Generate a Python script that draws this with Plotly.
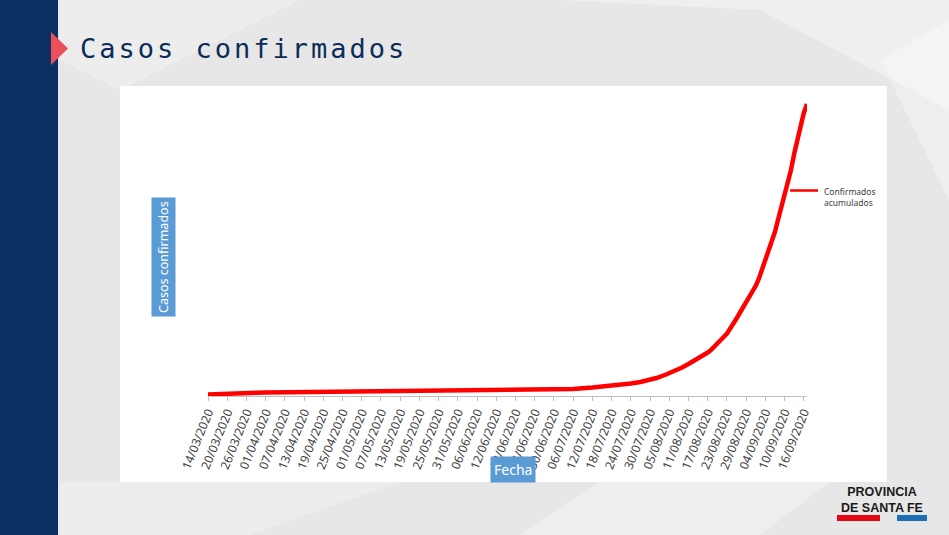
import plotly.graph_objects as go

W, H = 949, 535

# ---------------- data ----------------
dates = [
    "2020-03-14", "2020-03-20", "2020-03-26", "2020-03-29", "2020-04-01",
    "2020-04-07", "2020-04-13", "2020-04-19", "2020-04-25", "2020-05-01",
    "2020-05-07", "2020-05-13", "2020-05-19", "2020-05-25", "2020-05-31",
    "2020-06-03", "2020-06-06", "2020-06-12", "2020-06-18", "2020-06-24",
    "2020-06-30", "2020-07-06", "2020-07-12", "2020-07-18", "2020-07-22",
    "2020-07-24", "2020-07-27", "2020-07-30", "2020-08-01", "2020-08-04",
    "2020-08-07", "2020-08-09", "2020-08-11", "2020-08-13", "2020-08-15",
    "2020-08-17", "2020-08-18", "2020-08-19", "2020-08-20", "2020-08-21",
    "2020-08-22", "2020-08-23", "2020-08-24", "2020-08-25", "2020-08-26",
    "2020-08-27", "2020-08-28", "2020-08-29", "2020-08-30", "2020-08-31",
    "2020-09-01", "2020-09-02", "2020-09-03", "2020-09-04", "2020-09-05",
    "2020-09-06", "2020-09-07", "2020-09-08", "2020-09-09", "2020-09-10",
    "2020-09-11", "2020-09-12", "2020-09-13", "2020-09-14", "2020-09-15",
    "2020-09-16", "2020-09-17",
]
confirmados = [
    80, 110, 190, 300, 340,
    370, 395, 450, 462, 476,
    480, 490, 495, 503, 517,
    571, 585, 598, 639, 694,
    721, 816, 1020, 1251, 1480,
    1570, 1770, 2040, 2310, 2790,
    3330, 3740, 4220, 4700, 5240,
    5780, 6100, 6500, 6936, 7400,
    7888, 8350, 8976, 9656, 10400,
    11152, 11900, 12600, 13250, 14008,
    14850, 15850, 17100, 18400, 19700,
    20900, 22200, 23900, 25500, 26928,
    28500, 30600, 32800, 34800, 36700,
    38352, 39576,
]
x_start = "2020-03-14"
x_end = "2020-09-17"
tick_step_days = 6
series_name = "Confirmados acumulados"
slide_title = "Casos confirmados"
y_title = "Casos confirmados"
x_title = "Fecha"
logo_lines = ["PROVINCIA", "DE SANTA FE"]

# ---------------- helpers ----------------
def px(x):
    return x / W


def py(y):
    return 1 - y / H


fig = go.Figure()
fig.add_trace(go.Scatter(
    x=dates, y=confirmados, mode="lines", name=series_name,
    line=dict(color="#ff0000", width=4.5), showlegend=False,
    hoverinfo="skip",
))

NAVY = "#0b2f60"
shapes = []
# subtle background facets
for path, op in [
    ("M 560,0 L 949,0 L 949,110 L 760,10 Z", 0.35),
    ("M 60,0 L 300,0 L 120,90 L 60,60 Z", 0.25),
    ("M 880,60 L 949,20 L 949,200 Z", 0.3),
    ("M 60,482 L 400,482 L 250,535 L 60,535 Z", 0.25),
    ("M 600,482 L 830,482 L 760,535 L 520,535 Z", 0.3),
]:
    pts = path.replace("M", "").replace("Z", "").split("L")
    conv = []
    for p in pts:
        a, b = p.strip().split(",")
        conv.append(f"{px(float(a)):.5f},{py(float(b)):.5f}")
    shapes.append(dict(type="path", xref="paper", yref="paper",
                       path="M " + " L ".join(conv) + " Z",
                       fillcolor="white", opacity=op, line=dict(width=0), layer="below"))
# chart white area
shapes.append(dict(type="rect", xref="paper", yref="paper",
                   x0=px(120), x1=px(887), y0=py(482), y1=py(86),
                   fillcolor="white", line=dict(width=0), layer="below"))
# navy side bar
shapes.append(dict(type="rect", xref="paper", yref="paper",
                   x0=0, x1=px(58), y0=0, y1=1,
                   fillcolor=NAVY, line=dict(width=0), layer="below"))
# red triangle
shapes.append(dict(type="path", xref="paper", yref="paper",
                   path=f"M {px(51)},{py(32)} L {px(68)},{py(48.5)} L {px(51)},{py(65)} Z",
                   fillcolor="#e9505c", line=dict(width=0), layer="above"))
# legend line
shapes.append(dict(type="line", xref="paper", yref="paper",
                   x0=px(790), x1=px(818), y0=py(190.5), y1=py(190.5),
                   line=dict(color="#ff0000", width=2.5)))
# logo bars
shapes.append(dict(type="rect", xref="paper", yref="paper",
                   x0=px(837), x1=px(880), y0=py(521), y1=py(515),
                   fillcolor="#e30613", line=dict(width=0)))
shapes.append(dict(type="rect", xref="paper", yref="paper",
                   x0=px(897), x1=px(927), y0=py(521), y1=py(515),
                   fillcolor="#1d6fb8", line=dict(width=0)))

annotations = [
    dict(text=f'<span style="letter-spacing:3px">{slide_title}</span>',
         x=px(78), y=py(49), xref="paper", yref="paper",
         xanchor="left", yanchor="middle", showarrow=False,
         font=dict(family="DejaVu Sans Mono", size=27, color="#0c2c58")),
    dict(text=y_title, x=px(163.5), y=py(257.5), xref="paper", yref="paper",
         xanchor="center", yanchor="middle", showarrow=False, textangle=-90,
         bgcolor="#5b9bd5", borderpad=3,
         font=dict(family="Noto Sans", size=12.5, color="white")),
    dict(text=x_title, x=px(513), y=py(469.5), xref="paper", yref="paper",
         xanchor="center", yanchor="middle", showarrow=False,
         bgcolor="#5b9bd5", borderpad=3,
         font=dict(family="Noto Sans", size=14, color="white")),
    dict(text="Confirmados<br>acumulados", x=px(822), y=py(197), xref="paper", yref="paper",
         xanchor="left", yanchor="middle", showarrow=False, align="left",
         font=dict(family="Noto Sans", size=8.5, color="#404040")),
    dict(text="<b>" + "<br>".join(logo_lines) + "</b>", x=px(882), y=py(499.5),
         xref="paper", yref="paper",
         xanchor="center", yanchor="middle", showarrow=False, align="center",
         font=dict(family="Liberation Sans", size=12.5, color="#1a1a1a")),
]

fig.update_layout(
    width=W, height=H,
    margin=dict(l=0, r=0, t=0, b=0, pad=0, autoexpand=False),
    paper_bgcolor="#e7e7e7",
    plot_bgcolor="rgba(0,0,0,0)",
    shapes=shapes,
    annotations=annotations,
    showlegend=False,
    xaxis=dict(
        type="date", range=[x_start, x_end],
        domain=[px(208), px(807)],
        anchor="free", position=py(395.5), automargin=False,
        showline=True, linecolor="#bfbfbf", linewidth=1,
        ticks="outside", ticklen=4, tickcolor="#bfbfbf",
        tick0=x_start, dtick=tick_step_days * 86400000,
        tickformat="%d/%m/%Y", tickangle=-68,
        tickfont=dict(family="Noto Sans", size=12, color="#404040"),
        showgrid=False, zeroline=False, fixedrange=True,
    ),
    yaxis=dict(
        range=[-408, 42024],
        domain=[py(398), py(86)], automargin=False,
        showticklabels=False, showline=False, showgrid=False,
        zeroline=False, ticks="", fixedrange=True,
    ),
)

fig.write_html(
    "out.html",
    config={"displayModeBar": False},
    post_script="document.body.style.margin='0';document.body.style.overflow='hidden';",
)
